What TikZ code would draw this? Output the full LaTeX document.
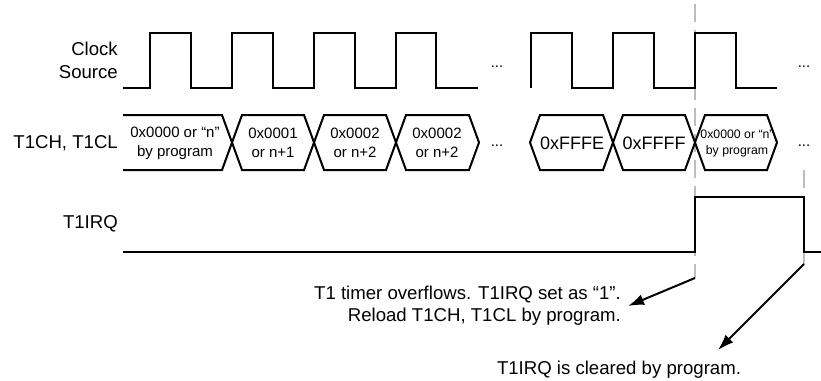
\documentclass[tikz,border=0pt]{standalone}
\usepackage{fontspec}
\setmainfont{Liberation Sans}
\usepackage{tikz}
\usetikzlibrary{arrows.meta,positioning,calc}
\definecolor{guide}{HTML}{BDBDBD}

\begin{document}
\begin{tikzpicture}[x=1pt,y=-1pt,>=Latex,line join=miter,
  sig/.style={line width=2pt},
  lbl/.style={inner sep=0pt,anchor=east,align=right,font=\fontsize{18.6}{23}\selectfont},
  hex/.style={inner sep=0pt,align=center,font=\fontsize{15}{19}\selectfont},
  dots/.style={inner sep=0pt,anchor=base,font=\fontsize{15}{18}\selectfont},
  note/.style={align=right,font=\fontsize{18.6}{22}\selectfont}]
\useasboundingbox (0,0) rectangle (821,380);
% guide lines
\draw[guide,line width=2pt,dash pattern=on 18pt off 8pt] (695,4) -- (695,278);
\draw[guide,line width=2pt,dash pattern=on 18pt off 8pt] (804,170) -- (804,264);
% signal names
\node[lbl] (clk) at (118,60) {Clock\\Source};
\node[lbl] (bus) at (118,143) {T1CH, T1CL};
\node[lbl] (irq) at (118,224) {T1IRQ};
% clock source
\draw[sig] (123,88) -- (150,88) -- (150,33) -- (191,33) -- (191,88) -- (232,88) -- (232,33) -- (273,33) -- (273,88) -- (314,88) -- (314,33) -- (355,33) -- (355,88) -- (396,88) -- (396,33) -- (436,33) -- (436,88) -- (478,88);
\draw[sig] (531,88) -- (531,33) -- (572,33) -- (572,88) -- (613,88) -- (613,33) -- (654,33) -- (654,88) -- (695,88) -- (695,33) -- (736,33) -- (736,88) -- (777,88);
\node[dots] (d1) at (497,67) {...};
\node[dots] (d2) at (804,67) {...};
% counter value
\draw[sig] (123,115) -- (222,115) -- (242,170) -- (304,170) -- (324,115) -- (386,115) -- (406,170) -- (469,170) -- (479,142.5) -- (469,115) -- (406,115) -- (386,170) -- (324,170) -- (304,115) -- (242,115) -- (222,170) -- (123,170);
\draw[sig] (530,142.5) -- (540,115) -- (603,115) -- (623,170) -- (685,170) -- (705,115) -- (767,115) -- (777,142.5) -- (767,170) -- (705,170) -- (685,115) -- (623,115) -- (603,170) -- (540,170) -- cycle;
\node[hex] (h1) at (175,143) {0x0000 or “n”\\by program};
\node[hex] (h2) at (273,143) {0x0001\\or n+1};
\node[hex] (h3) at (355,143) {0x0002\\or n+2};
\node[hex] (h4) at (437,143) {0x0002\\or n+2};
\node[hex,font=\fontsize{18}{20}\selectfont] (h5) at (572,143) {0xFFFE};
\node[hex,font=\fontsize{18}{20}\selectfont] (h6) at (654,143) {0xFFFF};
\node[hex,font=\fontsize{12.3}{16}\selectfont] (h7) at (737,143) {0x0000 or “n”\\by program};
\node[dots] (d3) at (497,146) {...};
\node[dots] (d4) at (804,146) {...};
% interrupt flag
\draw[sig] (123,252) -- (695,252) -- (695,197) -- (804,197) -- (804,252) -- (821,252);
% notes
\node[note,inner xsep=7pt,inner ysep=0pt,anchor=east] (note1) at (628,306) {T1 timer overflows. T1IRQ set as “1”.\\Reload T1CH, T1CL by program.};
\node[note,inner sep=0pt] (note2) at (619,370) {T1IRQ is cleared by program.};
\coordinate (ov) at (695,278);
\coordinate (cl) at (804,264);
\coordinate (cltip) at (718,350);
\draw[-{Latex[length=16pt,width=11pt]},line width=2pt] (ov) -- (note1.east);
\draw[-{Latex[length=16pt,width=11pt]},line width=2pt] (cl) -- (cltip);
\end{tikzpicture}
\end{document}
